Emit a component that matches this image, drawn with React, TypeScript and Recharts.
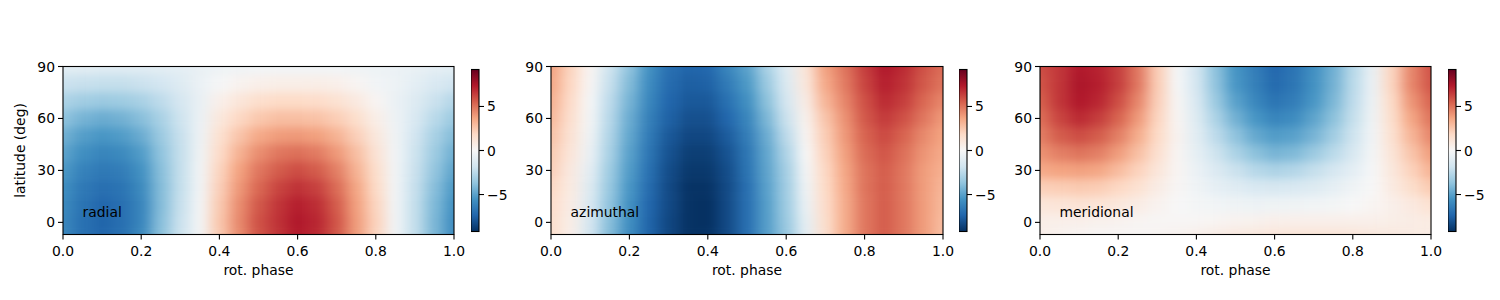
import { ReferenceArea, ReferenceDot, Scatter, ScatterChart, XAxis, YAxis } from 'recharts';

const phases = [0, 0.05, 0.1, 0.15, 0.2, 0.25, 0.3, 0.35, 0.4, 0.45, 0.5, 0.55, 0.6, 0.65, 0.7, 0.75, 0.8, 0.85, 0.9, 0.95, 1];
const latitudes = [90, 80, 70, 60, 50, 40, 30, 20, 10, 0, -7];

const phaseTicks = [0, 0.2, 0.4, 0.6, 0.8, 1];
const latTicks = [0, 30, 60, 90];
const barTicks = [-5, 0, 5];

// rows follow latitudes, columns follow phases
const radial = [
  [-1.0, -1.0, -1.1, -1.1, -1.1, -1.0, -0.9, -0.7, -0.5, -0.4, -0.3, -0.3, -0.3, -0.3, -0.3, -0.4, -0.5, -0.6, -0.7, -0.9, -1.0],
  [-2.0, -2.1, -2.2, -2.2, -2.0, -1.7, -1.2, -0.6, -0.1, 0.3, 0.5, 0.6, 0.6, 0.6, 0.5, 0.2, -0.3, -0.5, -0.9, -1.4, -1.8],
  [-2.9, -3.2, -3.4, -3.3, -3.0, -2.4, -1.6, -0.7, 0.5, 1.1, 1.6, 1.8, 1.8, 1.7, 1.4, 0.9, 0.2, -0.6, -1.2, -2.0, -2.7],
  [-3.7, -4.3, -4.6, -4.4, -3.9, -3.0, -1.9, -0.6, 1.0, 1.9, 2.5, 2.8, 2.8, 2.7, 2.3, 1.6, 0.6, -0.5, -1.4, -2.5, -3.4],
  [-4.4, -5.1, -5.4, -5.2, -4.6, -3.4, -2.1, -0.5, 1.4, 2.6, 3.5, 3.9, 4.0, 3.8, 3.2, 2.2, 1.0, -0.4, -1.7, -3.0, -4.0],
  [-4.9, -5.7, -6.1, -5.9, -5.2, -3.7, -2.2, -0.4, 1.7, 3.2, 4.3, 4.9, 5.1, 4.8, 4.0, 2.8, 1.3, -0.3, -1.9, -3.3, -4.5],
  [-5.3, -6.2, -6.6, -6.4, -5.6, -3.9, -2.2, -0.3, 2.0, 3.7, 4.9, 5.6, 6.0, 5.6, 4.7, 3.2, 1.6, -0.3, -2.0, -3.6, -4.9],
  [-5.7, -6.6, -7.0, -6.8, -5.9, -4.0, -2.2, -0.3, 2.2, 4.0, 5.3, 6.2, 6.7, 6.3, 5.2, 3.6, 1.8, -0.3, -2.1, -3.9, -5.3],
  [-5.9, -6.8, -7.3, -7.0, -6.1, -4.0, -2.1, -0.2, 2.4, 4.3, 5.7, 6.6, 7.2, 6.8, 5.6, 3.8, 2.0, -0.3, -2.2, -4.1, -5.6],
  [-6.0, -6.9, -7.4, -7.0, -6.1, -3.9, -2.0, -0.2, 2.5, 4.4, 5.9, 6.7, 7.4, 7.0, 5.8, 3.9, 2.1, -0.3, -2.2, -4.2, -5.8],
  [-6.0, -6.9, -7.3, -6.9, -5.9, -3.8, -1.9, -0.2, 2.4, 4.3, 5.8, 6.6, 7.3, 6.9, 5.7, 3.9, 2.0, -0.3, -2.2, -4.2, -5.8],
];

const azimuthal = [
  [3.8, 2.0, 0.2, -1.9, -3.7, -5.6, -7.0, -7.4, -7.3, -6.1, -5.0, -3.0, -1.1, 1.2, 3.8, 5.0, 6.4, 7.4, 6.9, 5.9, 5.2],
  [3.6, 1.9, 0.1, -2.1, -4.0, -5.8, -7.1, -7.6, -7.5, -6.5, -5.3, -3.4, -1.3, 1.0, 3.5, 4.8, 6.2, 7.2, 6.7, 5.7, 5.0],
  [3.3, 1.7, -0.1, -2.4, -4.3, -6.0, -7.3, -7.8, -7.8, -6.9, -5.7, -3.8, -1.6, 0.7, 3.1, 4.5, 5.9, 6.9, 6.4, 5.3, 4.5],
  [3.0, 1.5, -0.2, -2.6, -4.6, -6.3, -7.5, -8.1, -8.1, -7.3, -6.1, -4.2, -2.0, 0.4, 2.6, 4.2, 5.7, 6.5, 5.9, 4.9, 4.0],
  [2.7, 1.3, -0.4, -2.8, -4.8, -6.5, -7.8, -8.4, -8.4, -7.7, -6.4, -4.6, -2.4, 0.2, 2.3, 4.0, 5.4, 6.1, 5.4, 4.4, 3.7],
  [2.4, 1.1, -0.6, -3.0, -5.0, -6.7, -8.0, -8.7, -8.7, -8.0, -6.7, -4.8, -2.8, 0.0, 2.1, 3.8, 5.2, 5.8, 5.1, 4.1, 3.5],
  [2.2, 0.9, -0.9, -3.3, -5.2, -6.9, -8.2, -8.9, -8.9, -8.2, -6.8, -4.9, -3.1, -0.2, 1.9, 3.6, 5.0, 5.6, 4.9, 3.9, 3.3],
  [1.9, 0.8, -1.2, -3.5, -5.4, -7.1, -8.3, -9.1, -9.1, -8.3, -7.0, -5.0, -3.2, -0.4, 1.8, 3.5, 5.0, 5.6, 4.9, 3.9, 3.1],
  [1.7, 0.7, -1.4, -3.7, -5.6, -7.3, -8.3, -9.1, -9.2, -8.3, -7.0, -5.1, -3.3, -0.6, 1.7, 3.4, 4.9, 5.6, 4.9, 3.9, 3.0],
  [1.6, 0.6, -1.6, -3.9, -5.7, -7.4, -8.4, -9.1, -9.2, -8.3, -7.0, -5.1, -3.4, -0.8, 1.6, 3.4, 4.9, 5.6, 4.9, 3.9, 2.9],
  [1.6, 0.5, -1.7, -4.0, -5.8, -7.4, -8.4, -9.1, -9.1, -8.3, -7.0, -5.1, -3.5, -0.9, 1.5, 3.4, 4.9, 5.6, 4.9, 3.9, 2.8],
];

const meridional = [
  [6.0, 6.6, 7.4, 7.1, 6.4, 4.9, 2.3, -0.1, -1.7, -3.8, -5.5, -6.4, -7.3, -6.8, -5.7, -4.5, -2.6, -0.7, 2.0, 4.5, 5.9],
  [5.8, 6.6, 7.5, 7.2, 6.4, 4.9, 2.3, -0.1, -1.6, -3.7, -5.4, -6.3, -7.2, -6.7, -5.6, -4.4, -2.5, -0.6, 2.0, 4.5, 5.8],
  [5.5, 6.6, 7.4, 7.0, 6.0, 4.5, 2.2, 0.1, -1.4, -3.4, -5.0, -6.0, -6.8, -6.4, -5.4, -4.2, -2.4, -0.5, 1.8, 4.1, 5.4],
  [5.1, 6.2, 6.9, 6.4, 5.4, 4.0, 2.0, 0.2, -1.2, -2.9, -4.4, -5.4, -6.1, -5.8, -4.9, -3.8, -2.2, -0.4, 1.6, 3.6, 5.0],
  [4.7, 5.6, 6.0, 5.6, 4.7, 3.4, 1.8, 0.3, -1.0, -2.4, -3.7, -4.7, -5.2, -5.0, -4.3, -3.2, -1.9, -0.3, 1.4, 3.1, 4.5],
  [4.2, 4.7, 5.0, 4.7, 3.9, 2.8, 1.5, 0.2, -0.8, -1.9, -2.9, -3.8, -4.3, -4.1, -3.4, -2.5, -1.5, -0.2, 1.2, 2.6, 3.9],
  [3.5, 3.7, 3.8, 3.6, 2.9, 2.1, 1.1, 0.2, -0.6, -1.3, -2.0, -2.6, -2.9, -2.7, -2.2, -1.6, -0.9, -0.1, 1.0, 2.1, 3.2],
  [2.2, 2.3, 2.4, 2.3, 1.9, 1.4, 0.7, 0.1, -0.4, -0.8, -1.1, -1.4, -1.5, -1.4, -1.2, -0.8, -0.4, 0.0, 0.8, 1.6, 2.4],
  [1.1, 1.2, 1.3, 1.2, 1.0, 0.7, 0.3, 0.0, -0.2, -0.3, -0.4, -0.5, -0.4, -0.4, -0.3, -0.2, 0.0, 0.2, 0.5, 0.9, 1.4],
  [0.6, 0.5, 0.5, 0.4, 0.3, 0.2, 0.1, 0.1, 0.1, 0.2, 0.3, 0.4, 0.5, 0.5, 0.5, 0.5, 0.5, 0.5, 0.6, 0.7, 0.8],
  [0.5, 0.3, 0.2, 0.1, 0.1, 0.1, 0.2, 0.3, 0.5, 0.7, 0.9, 1.0, 1.1, 1.2, 1.2, 1.2, 1.1, 1.0, 0.9, 0.8, 0.7],
];

// RdBu_r, low to high
const RDBU = ['#053061', '#2166ac', '#4393c3', '#92c5de', '#d1e5f0', '#f7f7f7', '#fddbc7', '#f4a582', '#d6604d', '#b2182b', '#67001f'];
const VMAX = 9.2;
const LAT_MIN = -7;
const LAT_MAX = 90;
const FONT = '"DejaVu Sans", sans-serif';
const LINE = 1.1;
const PLOT_TOP = 66.5;
const PLOT_H = 168;
const BAR_TOP = 69.5;
const BAR_H = 162;
const TICK = 5;

function hexToRgb(hex: string) {
  return [1, 3, 5].map((i) => parseInt(hex.slice(i, i + 2), 16));
}

function valueColor(v: number) {
  const t = ((Math.max(-VMAX, Math.min(VMAX, v)) + VMAX) / (2 * VMAX)) * (RDBU.length - 1);
  const i = Math.min(Math.floor(t), RDBU.length - 2);
  const a = hexToRgb(RDBU[i]);
  const b = hexToRgb(RDBU[i + 1]);
  const c = a.map((x, k) => Math.round(x + (b[k] - x) * (t - i)));
  return `rgb(${c[0]},${c[1]},${c[2]})`;
}

function buildCells(rows: number[][]) {
  return rows.flatMap((row, r) =>
    row.map((value, c) => ({
      phase: phases[c],
      lat: latitudes[r],
      value,
      // edge cells run past the frame so the smoothing does not fade at the border
      phaseLo: c === 0 ? -0.2 : (phases[c - 1] + phases[c]) / 2,
      phaseHi: c === phases.length - 1 ? 1.2 : (phases[c] + phases[c + 1]) / 2,
      latHi: r === 0 ? LAT_MAX + 30 : (latitudes[r - 1] + latitudes[r]) / 2,
      latLo: r === latitudes.length - 1 ? LAT_MIN - 30 : (latitudes[r] + latitudes[r + 1]) / 2,
    }))
  );
}

function HeatCell({ cx, cy, payload, plotW }: any) {
  const pxY = PLOT_H / (LAT_MAX - LAT_MIN);
  return (
    <rect
      x={cx - (payload.phase - payload.phaseLo) * plotW}
      y={cy - (payload.latHi - payload.lat) * pxY}
      width={(payload.phaseHi - payload.phaseLo) * plotW + 0.5}
      height={(payload.latHi - payload.latLo) * pxY + 0.5}
      fill={valueColor(payload.value)}
    />
  );
}

// ReferenceArea passes its own fill to the shape, hence a separate prop
function Frame({ x, y, width, height, paint }: any) {
  return <rect x={x} y={y} width={width} height={height} fill={paint} stroke="#000" strokeWidth={LINE} />;
}

const tickStyle = { fontSize: 13.9, fontFamily: FONT, fill: '#000' };

function BottomTick({ x, y, payload }: any) {
  return (
    <g>
      <line x1={x} x2={x} y1={y - TICK - 5} y2={y - 5} stroke="#000" strokeWidth={LINE} />
      <text x={x} y={y + 11} textAnchor="middle" style={tickStyle}>
        {payload.value.toFixed(1)}
      </text>
    </g>
  );
}

function LeftTick({ x, y, payload }: any) {
  return (
    <g>
      <line x1={x + 3} x2={x + 3 + TICK} y1={y} y2={y} stroke="#000" strokeWidth={LINE} />
      <text x={x} y={y + 5} textAnchor="end" style={tickStyle}>
        {payload.value}
      </text>
    </g>
  );
}

function RightTick({ x, y, payload }: any) {
  const v = payload.value;
  return (
    <g>
      <line x1={x - 3 - TICK} x2={x - 3} y1={y} y2={y} stroke="#000" strokeWidth={LINE} />
      <text x={x} y={y + 5} textAnchor="start" style={tickStyle}>
        {v < 0 ? `\u2212${-v}` : `${v}`}
      </text>
    </g>
  );
}

function Panel({ name, rows, left, plotW, yLabel }: { name: string; rows: number[][]; left: number; plotW: number; yLabel?: string }) {
  const axisW = 62;
  const chartW = axisW + plotW + 14;
  return (
    <div className="heat" style={{ position: 'absolute', left: left - axisW, top: 0 }}>
      <ScatterChart width={chartW} height={300} margin={{ top: PLOT_TOP, right: 14, bottom: 300 - PLOT_TOP - PLOT_H - 50, left: 0 }}>
        <XAxis
          type="number"
          dataKey="phase"
          domain={[0, 1]}
          ticks={phaseTicks}
          interval={0}
          allowDataOverflow
          height={50}
          axisLine={false}
          tickLine={false}
          tickSize={TICK}
          tickMargin={5}
          tick={<BottomTick />}
          label={{ value: 'rot. phase', position: 'insideBottom', offset: 10, style: tickStyle }}
        />
        <YAxis
          type="number"
          dataKey="lat"
          domain={[LAT_MIN, LAT_MAX]}
          ticks={latTicks}
          interval={0}
          allowDataOverflow
          width={axisW}
          axisLine={false}
          tickLine={false}
          tickSize={TICK}
          tickMargin={3}
          tick={<LeftTick />}
          label={yLabel ? { value: yLabel, angle: -90, position: 'insideLeft', offset: 19, style: { ...tickStyle, textAnchor: 'middle' } } : undefined}
        />
        <Scatter data={buildCells(rows)} isAnimationActive={false} shape={(p: any) => <HeatCell {...p} plotW={plotW} />} />
        <ReferenceArea x1={0} x2={1} y1={LAT_MIN} y2={LAT_MAX} ifOverflow="visible" zIndex={900} shape={<Frame paint="none" />} />
        <ReferenceDot
          x={0.05}
          y={6}
          r={0}
          fill="none"
          stroke="none"
          label={{ value: name, position: 'right', offset: 0, style: tickStyle }}
        />
      </ScatterChart>
    </div>
  );
}

const barLimits = [
  { x: 0, y: -VMAX },
  { x: 1, y: VMAX },
];

function ColorBar({ left }: { left: number }) {
  const barW = 8;
  return (
    <div style={{ position: 'absolute', left, top: 0 }}>
      <ScatterChart width={60} height={300} margin={{ top: BAR_TOP, right: 0, bottom: 300 - BAR_TOP - BAR_H, left: 0 }}>
        <XAxis type="number" dataKey="x" domain={[0, 1]} hide />
        <YAxis
          type="number"
          dataKey="y"
          orientation="right"
          domain={[-VMAX, VMAX]}
          ticks={barTicks}
          interval={0}
          width={60 - barW}
          axisLine={false}
          tickLine={false}
          tickSize={TICK}
          tickMargin={3}
          tick={<RightTick />}
        />
        <Scatter data={barLimits} isAnimationActive={false} shape={() => <g />} />
        <ReferenceArea x1={0} x2={1} y1={-VMAX} y2={VMAX} ifOverflow="visible" shape={<Frame paint="url(#rdbu-bar)" />} />
      </ScatterChart>
    </div>
  );
}

export default function App() {
  return (
    <div style={{ position: 'absolute', left: 0, top: 0, width: 1500, height: 300, overflow: 'hidden', background: '#fff' }}>
      <style>{`.heat .recharts-scatter { filter: url(#heat-smooth); }`}</style>
      <svg width={0} height={0} style={{ position: 'absolute' }}>
        <defs>
          <filter id="heat-smooth" x="-10%" y="-10%" width="120%" height="120%" colorInterpolationFilters="sRGB">
            <feGaussianBlur stdDeviation="7 5" />
          </filter>
          <linearGradient id="rdbu-bar" x1="0" y1="1" x2="0" y2="0">
            {RDBU.map((c, i) => (
              <stop key={c} offset={i / (RDBU.length - 1)} stopColor={c} />
            ))}
          </linearGradient>
        </defs>
      </svg>
      <Panel name="radial" rows={radial} left={62.5} plotW={391} yLabel="latitude (deg)" />
      <ColorBar left={470.5} />
      <Panel name="azimuthal" rows={azimuthal} left={550.5} plotW={392} />
      <ColorBar left={958.5} />
      <Panel name="meridional" rows={meridional} left={1039.5} plotW={391} />
      <ColorBar left={1447.5} />
    </div>
  );
}
